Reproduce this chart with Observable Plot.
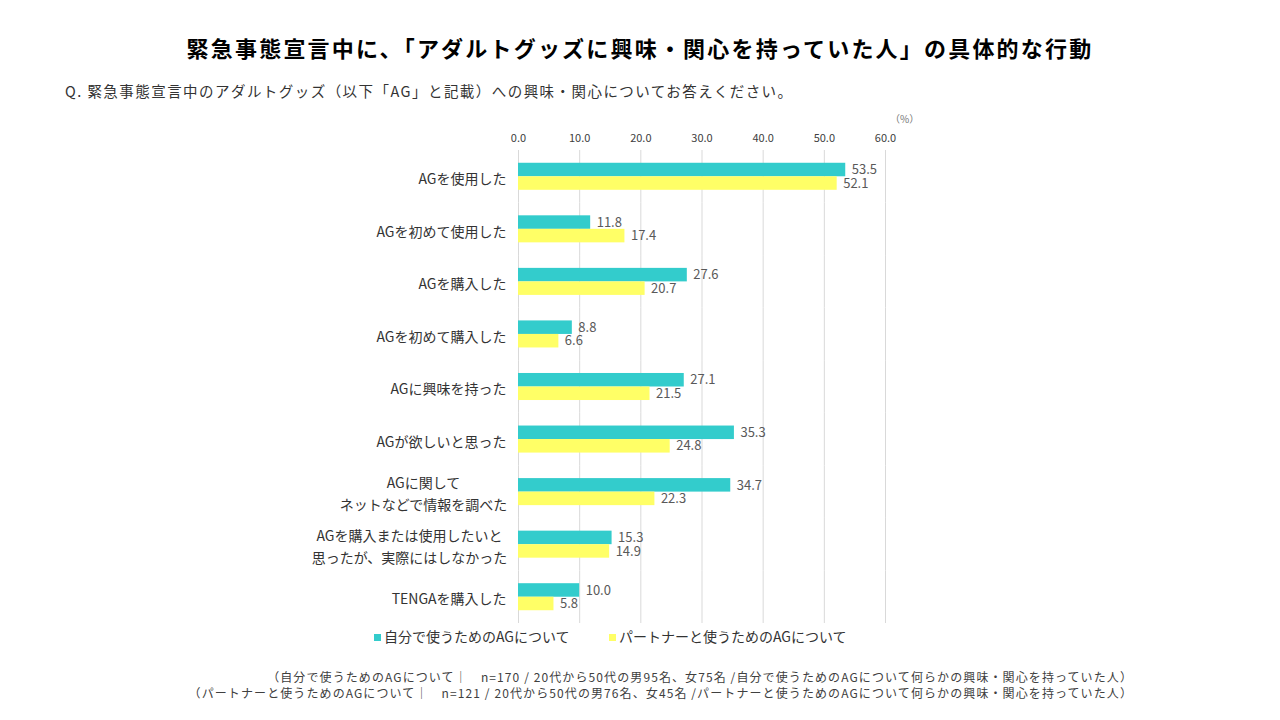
<!DOCTYPE html>
<html><head><meta charset="utf-8">
<script src="https://cdn.jsdelivr.net/npm/d3@7"></script>
<script src="https://cdn.jsdelivr.net/npm/@observablehq/plot@0.6"></script>
<style>
body{margin:0;background:#fff;font-family:"Noto Sans CJK JP","Noto Sans",sans-serif;}
#wrap{position:relative;width:1280px;height:720px;overflow:hidden;}
#title{position:absolute;left:0;top:31px;width:1280px;text-align:center;font-size:22px;letter-spacing:2.2px;font-weight:bold;color:#000;}
#sub{position:absolute;left:65px;top:80px;font-size:14.5px;letter-spacing:1.45px;color:#333;}
#chart{position:absolute;left:0;top:100px;}
#pct{position:absolute;left:890px;top:111px;font-size:10px;color:#777;}
#legend{position:absolute;left:374px;top:626px;font-size:14px;color:#333;display:flex;}
#legend span.sw{display:inline-block;width:7px;height:7px;margin-right:3px;vertical-align:middle;position:relative;top:-1px;}
#foot{position:absolute;right:147px;top:669px;text-align:right;font-size:12px;letter-spacing:1.1px;color:#404040;line-height:16px;white-space:nowrap;}
</style></head>
<body><div id="wrap">
<div id="title">緊急事態宣言中に、「アダルトグッズに興味・関心を持っていた人」の具体的な行動</div>
<div id="sub">Q. 緊急事態宣言中のアダルトグッズ（以下「AG」と記載）への興味・関心についてお答えください。</div>
<div id="pct">（%）</div>
<div id="chart"></div>
<div id="legend">
  <div style="width:235px"><span class="sw" style="background:#33CCCC"></span>自分で使うためのAGについて</div>
  <div><span class="sw" style="background:#FFFF66"></span>パートナーと使うためのAGについて</div>
</div>
<div id="foot">（自分で使うためのAGについて｜　n=170 / 20代から50代の男95名、女75名 /自分で使うためのAGについて何らかの興味・関心を持っていた人）<br>（パートナーと使うためのAGについて｜　n=121 / 20代から50代の男76名、女45名 /パートナーと使うためのAGについて何らかの興味・関心を持っていた人）</div>
</div>
<script>
const categories = [
  "AGを使用した",
  "AGを初めて使用した",
  "AGを購入した",
  "AGを初めて購入した",
  "AGに興味を持った",
  "AGが欲しいと思った",
  "AGに関して\nネットなどで情報を調べた",
  "AGを購入または使用したいと\n思ったが、実際にはしなかった",
  "TENGAを購入した"
];
const seriesNames = ["自分で使うためのAGについて", "パートナーと使うためのAGについて"];
const selfValues    = [53.5, 11.8, 27.6, 8.8, 27.1, 35.3, 34.7, 15.3, 10.0];
const partnerValues = [52.1, 17.4, 20.7, 6.6, 21.5, 24.8, 22.3, 14.9, 5.8];
const xTicks = [0, 10, 20, 30, 40, 50, 60];
const colors = ["#33CCCC", "#FFFF66"];

const rows = [];
categories.forEach((c, i) => {
  rows.push({category: c, series: seriesNames[0], value: selfValues[i]});
  rows.push({category: c, series: seriesNames[1], value: partnerValues[i]});
});
const single = categories.filter(c => !c.includes("\n")).map(c => ({category: c}));
const multiA = [{category: categories[6]}];
const multiB = [{category: categories[7]}];

const labelStyle = {fy: "category", text: "category", frameAnchor: "left", fontSize: 14, fill: "#333", lineHeight: 1.6};

const chart = Plot.plot({
  width: 1280,
  height: 526,
  marginLeft: 518,
  marginRight: 395,
  marginTop: 50,
  marginBottom: 3,
  style: {fontFamily: '"Noto Sans CJK JP","Noto Sans",sans-serif', background: "transparent"},
  x: {domain: [0, 60], axis: null, label: null},
  fy: {domain: categories, padding: 0, axis: null, round: false},
  y: {domain: seriesNames, paddingInner: 0, paddingOuter: 0.944, axis: null, round: false},
  color: {domain: seriesNames, range: colors},
  marks: [
    Plot.gridX(xTicks, {stroke: "#d9d9d9", strokeOpacity: 1, strokeWidth: 1}),
    Plot.barX(rows, {fy: "category", y: "series", x: "value", fill: "series"}),
    Plot.text(rows, {fy: "category", y: "series", x: "value", text: d => d.value.toFixed(1), textAnchor: "start", dx: 6, fontSize: 13, fill: "#595959"}),
    Plot.axisX({anchor: "top", ticks: xTicks, tickFormat: d => d.toFixed(1), tickSize: 0, tickPadding: 9, fontSize: 11, fill: "#404040", label: null}),
    Plot.text(single, {...labelStyle, textAnchor: "end", dx: -12}),
    Plot.text(multiA, {...labelStyle, textAnchor: "middle", dx: -95}),
    Plot.text(multiB, {...labelStyle, textAnchor: "middle", dx: -109})
  ]
});
document.getElementById("chart").appendChild(chart);
</script>
</body></html>
